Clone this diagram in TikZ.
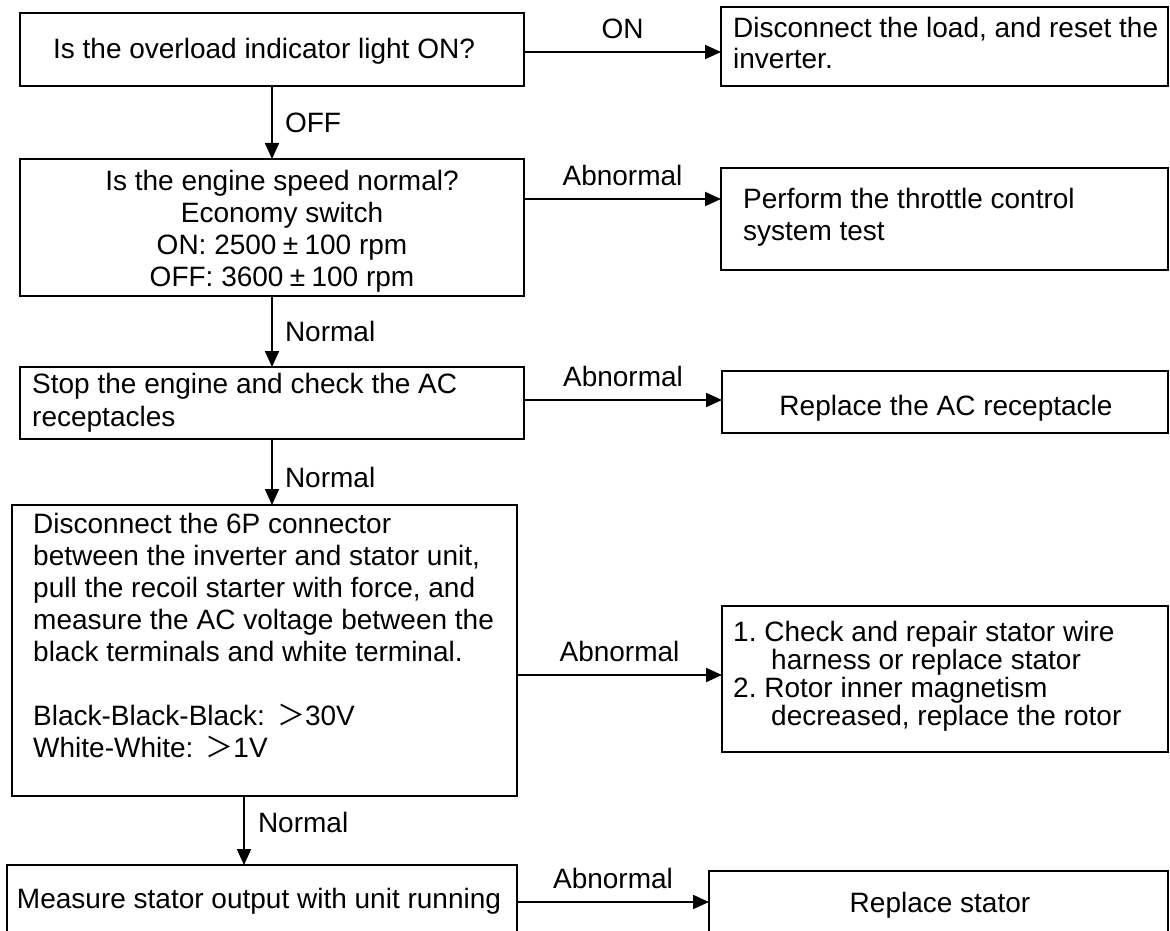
\documentclass[tikz,border=0pt]{standalone}
\usepackage{fontspec}
\setmainfont{Liberation Sans}
\newfontfamily\cjkfont{Noto Sans CJK SC}
\usetikzlibrary{arrows.meta}
\frenchspacing
% full-width plus-minus and greater-than signs
\newcommand{\pmw}{\makebox[1em]{±}}
\newcommand{\gtw}{{\cjkfont ＞}}

\begin{document}
\begin{tikzpicture}[x=1pt,y=-1pt,
  box/.style={draw, line width=1.8pt, inner sep=0pt, outer sep=0pt, anchor=north west},
  txt/.style={inner sep=0pt, font=\fontsize{28}{32}\selectfont},
  lbl/.style={inner sep=0pt, font=\fontsize{28}{32}\selectfont},
  flow/.style={draw, line width=2pt, -{Triangle[length=16pt,width=14pt]}}]
\clip (0,0) rectangle (1170,931);

% boxes
\node[box, minimum width=504pt, minimum height=73pt]  (b1)  at (20,13)   {};
\node[box, minimum width=447pt, minimum height=79pt]  (b2)  at (721,7)   {};
\node[box, minimum width=504pt, minimum height=137pt] (b3)  at (20,159)  {};
\node[box, minimum width=447pt, minimum height=102pt] (b4)  at (721,168) {};
\node[box, minimum width=504pt, minimum height=72pt]  (b5)  at (20,367)  {};
\node[box, minimum width=446pt, minimum height=62pt]  (b6)  at (722,371) {};
\node[box, minimum width=505pt, minimum height=291pt] (b7)  at (12,505)  {};
\node[box, minimum width=446pt, minimum height=146pt] (b8)  at (722,606) {};
\node[box, minimum width=510pt, minimum height=80pt]  (b9)  at (7,865)   {};
\node[box, minimum width=459pt, minimum height=74pt]  (b10) at (709,871) {};

% box texts
\node[txt, anchor=base] (t1) at (264,58.5) {Is the overload indicator light ON?};
\node[txt, anchor=north west, align=left, font=\fontsize{28}{31}\selectfont] (t2) at (733,17)
  {Disconnect the load, and reset the\\inverter.};
\node[txt, anchor=north, align=center] (t3) at (282,170)
  {Is the engine speed normal?\\Economy switch\\ON: 2500\pmw100 rpm\\OFF: 3600\pmw100 rpm};
\node[txt, anchor=north west, align=left] (t4) at (743,188)
  {Perform the throttle control\\system test};
\node[txt, anchor=north west, align=left, font=\fontsize{28}{33}\selectfont] (t5) at (32,373)
  {Stop the engine and check the AC\\receptacles};
\node[txt, anchor=base] (t6) at (946,415) {Replace the AC receptacle};
\node[txt, anchor=north west, align=left] (t7) at (33,513)
  {Disconnect the 6P connector\\
   between the inverter and stator unit,\\
   pull the recoil starter with force, and\\
   measure the AC voltage between the\\
   black terminals and white terminal.\\[32pt]
   Black-Black-Black:\hspace{12pt}\gtw30V\\
   White-White:\hspace{12pt}\gtw1V};
\node[txt, anchor=north west, align=left, font=\fontsize{28}{28}\selectfont] (t8) at (733,621)
  {1. Check and repair stator wire\\
   \hspace*{38pt}harness or replace stator\\
   2. Rotor inner magnetism\\
   \hspace*{38pt}decreased, replace the rotor};
\node[txt, anchor=base] (t9)  at (259,908) {Measure stator output with unit running};
\node[txt, anchor=base] (t10) at (940,912) {Replace stator};

% horizontal connectors
\draw[flow] ([yshift=-2.5pt]b1.east) -- ([yshift=-2.5pt]b1.east -| b2.west)
  node[lbl, midway, above=12pt] (l1) {ON};
\draw[flow] ([yshift=-40pt]b3.north east) -- ([yshift=-40pt]b3.north east -| b4.west)
  node[lbl, midway, above=12pt] (l2) {Abnormal};
\draw[flow] ([yshift=-33pt]b5.north east) -- ([yshift=-33pt]b5.north east -| b6.west)
  node[lbl, midway, above=12pt] (l3) {Abnormal};
\draw[flow] ([yshift=-170pt]b7.north east) -- ([yshift=-170pt]b7.north east -| b8.west)
  node[lbl, midway, above=12pt] (l4) {Abnormal};
\draw[flow] ([yshift=-37pt]b9.north east) -- ([yshift=-37pt]b9.north east -| b10.west)
  node[lbl, midway, above=12pt] (l5) {Abnormal};

% vertical connectors
\draw[flow] (b1.south) -- (b3.north)
  node[lbl, midway, right=12pt] (l6) {OFF};
\draw[flow] (b3.south) -- (b5.north)
  node[lbl, midway, right=12pt] (l7) {Normal};
\draw[flow] (b5.south) -- (b5.south |- b7.north)
  node[lbl, pos=0.58, right=12pt] (l8) {Normal};
\draw[flow] ([xshift=-20.5pt]b7.south) -- ([xshift=-20.5pt]b7.south |- b9.north)
  node[lbl, pos=0.39, right=13pt] (l9) {Normal};
\end{tikzpicture}
\end{document}
